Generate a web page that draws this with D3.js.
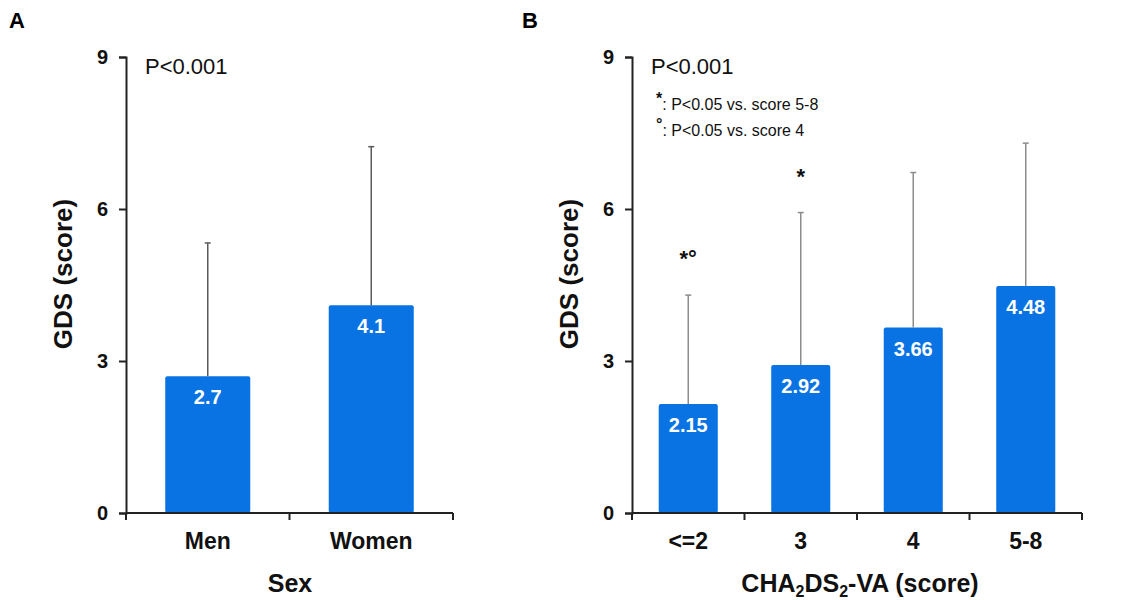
<!DOCTYPE html>
<html>
<head>
<meta charset="utf-8">
<script src="https://cdn.jsdelivr.net/npm/d3@7"></script>
<style>
  body { margin: 0; background: #fff; }
  text { font-family: Arial, "Liberation Sans", sans-serif; }
</style>
</head>
<body>
<div id="chart"></div>
<script>
// panel A data
const sexCats = ["Men", "Women"];
const sexMeans = [2.7, 4.1];
const sexUpper = [5.33, 7.23];

// panel B data
const scoreCats = ["<=2", "3", "4", "5-8"];
const scoreMeans = [2.15, 2.92, 3.66, 4.48];
const scoreUpper = [4.3, 5.93, 6.72, 7.3];
const scoreMarks = ["*°", "*", "", ""];

const yTicks = [0, 3, 6, 9];

const barColor = "#0a73e4";

const svg = d3.select("#chart").append("svg")
    .attr("width", 1123)
    .attr("height", 600);

//draw one panel
function drawPanel(opts) {
    const g = svg.append("g");
    const y = d3.scaleLinear().domain([0, 9]).range([513, 57]);
    const x = d3.scaleBand().domain(opts.cats).range([opts.x0, opts.x1])
        .paddingInner(opts.pad).paddingOuter(opts.pad / 2);
    const half = x.bandwidth() / 2;

    // bars
    g.selectAll(".bar").data(opts.cats).enter().append("rect")
        .attr("x", d => x(d))
        .attr("width", x.bandwidth())
        .attr("y", (d, i) => y(opts.means[i]))
        .attr("height", (d, i) => y(0) - y(opts.means[i]))
        .attr("rx", 2)
        .attr("fill", barColor);

    // error bars (upper only)
    g.selectAll(".err").data(opts.cats).enter().append("line")
        .attr("x1", d => x(d) + half)
        .attr("x2", d => x(d) + half)
        .attr("y1", (d, i) => y(opts.means[i]))
        .attr("y2", (d, i) => y(opts.upper[i]))
        .attr("stroke", opts.errColor)
        .attr("stroke-width", 1.5);
    g.selectAll(".cap").data(opts.cats).enter().append("line")
        .attr("x1", d => x(d) + half - 3)
        .attr("x2", d => x(d) + half + 3)
        .attr("y1", (d, i) => y(opts.upper[i]))
        .attr("y2", (d, i) => y(opts.upper[i]))
        .attr("stroke", opts.errColor)
        .attr("stroke-width", 1.5);

    // value labels
    g.selectAll(".val").data(opts.cats).enter().append("text")
        .attr("x", d => x(d) + half)
        .attr("y", (d, i) => y(opts.means[i]) + 28)
        .attr("text-anchor", "middle")
        .attr("fill", "#fff")
        .style("font-size", "20px")
        .style("font-weight", "bold")
        .text((d, i) => opts.means[i]);

    // y axis
    const yAxis = g.append("g")
        .attr("transform", `translate(${opts.x0},0)`)
        .call(d3.axisLeft(y).tickValues(yTicks).tickSize(7).tickSizeOuter(7));
    yAxis.select(".domain").attr("stroke", "#222").attr("stroke-width", 2);
    yAxis.selectAll(".tick line").attr("stroke", "#222").attr("stroke-width", 2);
    yAxis.selectAll(".tick text")
        .attr("x", -18)
        .style("font-size", "20px")
        .style("font-weight", "bold")
        .attr("fill", "#111");

    // x axis, ticks at band edges
    const xAxis = g.append("g").attr("transform", `translate(0,${y(0)})`);
    xAxis.append("line")
        .attr("x1", opts.x0).attr("x2", opts.x1)
        .attr("stroke", "#222").attr("stroke-width", 2);
    const gap = (x.step() - x.bandwidth()) / 2;
    const edges = opts.cats.map(d => x(d) - gap).concat([opts.x1]);
    xAxis.selectAll(".xt").data(edges).enter().append("line")
        .attr("x1", d => d).attr("x2", d => d)
        .attr("y1", 0).attr("y2", 7)
        .attr("stroke", "#222").attr("stroke-width", 2);
    xAxis.selectAll(".xl").data(opts.cats).enter().append("text")
        .attr("x", d => x(d) + half)
        .attr("y", 36)
        .attr("text-anchor", "middle")
        .style("font-size", "23px")
        .style("font-weight", "bold")
        .attr("fill", "#111")
        .text(d => d);

    // significance marks
    if (opts.marks) {
        g.selectAll(".mk").data(opts.cats).enter().append("text")
            .attr("x", d => x(d) + half)
            .attr("y", (d, i) => y(opts.upper[i]) - 29)
            .attr("text-anchor", "middle")
            .style("font-size", "22px")
            .style("font-weight", "bold")
            .attr("fill", "#111")
            .text((d, i) => opts.marks[i]);
    }

    // y label
    g.append("text")
        .attr("transform", `translate(${opts.x0 - 54},274) rotate(-90)`)
        .attr("text-anchor", "middle")
        .style("font-size", "26px")
        .style("font-weight", "bold")
        .attr("fill", "#111")
        .text("GDS (score)");

    // P value
    g.append("text")
        .attr("x", opts.x0 + 19)
        .attr("y", 74)
        .style("font-size", "22px")
        .attr("fill", "#111")
        .text("P<0.001");

    // panel letter
    g.append("text")
        .attr("x", opts.letterX)
        .attr("y", 28)
        .style("font-size", "22px")
        .style("font-weight", "bold")
        .attr("fill", "#000")
        .text(opts.letter);

    return g;
}

drawPanel({
    cats: sexCats, means: sexMeans, upper: sexUpper,
    x0: 126, x1: 453, pad: 0.48, errColor: "#5a5a5a",
    letter: "A", letterX: 9
});
const gB = drawPanel({
    cats: scoreCats, means: scoreMeans, upper: scoreUpper, marks: scoreMarks,
    x0: 632, x1: 1082, pad: 0.475, errColor: "#8c8c8c",
    letter: "B", letterX: 522
});

// x titles
svg.append("text")
    .attr("x", 290).attr("y", 592)
    .attr("text-anchor", "middle")
    .style("font-size", "25px").style("font-weight", "bold").attr("fill", "#111")
    .text("Sex");

const xt = svg.append("text")
    .attr("x", 860).attr("y", 592)
    .attr("text-anchor", "middle")
    .style("font-size", "25px").style("font-weight", "bold").attr("fill", "#111");
xt.append("tspan").text("CHA");
xt.append("tspan").attr("dy", 5).style("font-size", "16px").text("2");
xt.append("tspan").attr("dy", -5).text("DS");
xt.append("tspan").attr("dy", 5).style("font-size", "16px").text("2");
xt.append("tspan").attr("dy", -5).text("-VA (score)");

// footnotes in panel B
const notes = [["*", ": P<0.05 vs. score 5-8"], ["°", ": P<0.05 vs. score 4"]];
notes.forEach((n, i) => {
    const t = gB.append("text")
        .attr("x", 656).attr("y", 110 + i * 26)
        .style("font-size", "16px").attr("fill", "#111");
    t.append("tspan").attr("dy", -6).style("font-weight", "bold").text(n[0]);
    t.append("tspan").attr("dy", 6).text(n[1]);
});
</script>
</body>
</html>
